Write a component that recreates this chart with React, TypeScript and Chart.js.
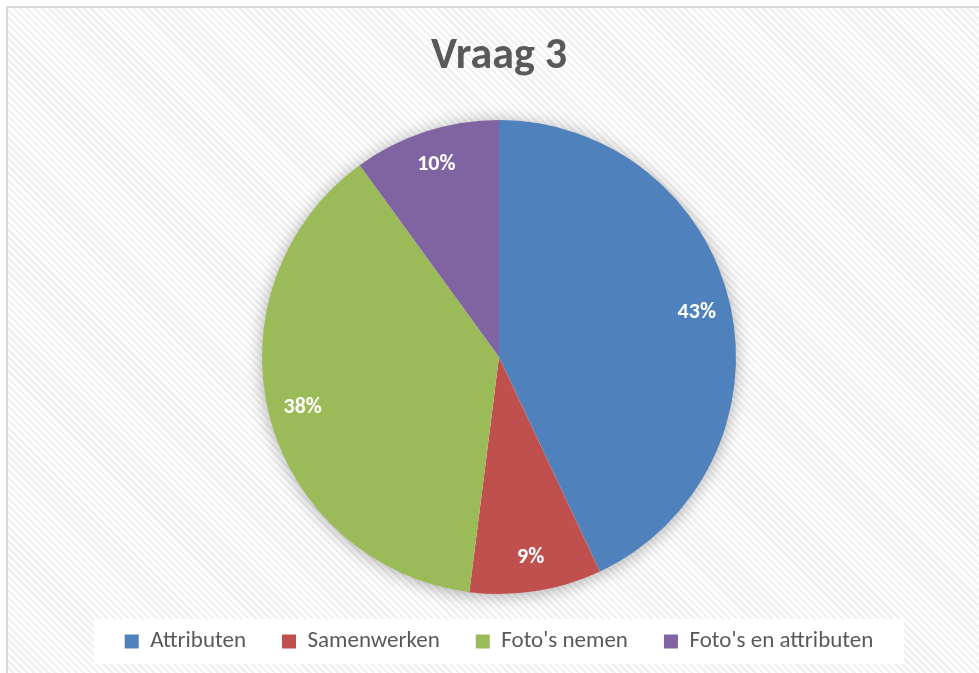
import React, { useEffect, useRef } from "react";
import { Chart, registerables } from "chart.js";

Chart.register(...registerables);

const title = "Vraag 3";
const categories = ["Attributen", "Samenwerken", "Foto's nemen", "Foto's en attributen"];
const values = [43, 9, 38, 10];
const colors = ["#4F81BD", "#C0504D", "#9BBB59", "#8064A2"];

const FONT = "Carlito, Calibri, Lato, 'Open Sans', sans-serif";

const shadowPlugin = {
  id: "pieShadow",
  beforeDatasetsDraw(chart: any) {
    const meta = chart.getDatasetMeta(0);
    const arc = meta.data[0];
    if (!arc) return;
    const { ctx } = chart;
    ctx.save();
    ctx.shadowColor = "rgba(0,0,0,0.35)";
    ctx.shadowBlur = 18;
    ctx.shadowOffsetX = 0;
    ctx.shadowOffsetY = 2;
    ctx.fillStyle = "#ffffff";
    ctx.beginPath();
    ctx.arc(arc.x, arc.y, arc.outerRadius - 1, 0, Math.PI * 2);
    ctx.fill();
    ctx.restore();
  },
};

const labelPlugin = {
  id: "pieLabels",
  afterDatasetsDraw(chart: any) {
    const meta = chart.getDatasetMeta(0);
    const data = chart.data.datasets[0].data as number[];
    const total = data.reduce((a, b) => a + b, 0);
    const { ctx } = chart;
    ctx.save();
    ctx.fillStyle = "#ffffff";
    ctx.font = `bold 22px ${FONT}`;
    ctx.textAlign = "center";
    ctx.textBaseline = "middle";
    meta.data.forEach((arc: any, i: number) => {
      const mid = (arc.startAngle + arc.endAngle) / 2;
      const r = arc.outerRadius * 0.855;
      const x = arc.x + Math.cos(mid) * r;
      const y = arc.y + Math.sin(mid) * r;
      ctx.fillText(Math.round((data[i] / total) * 100) + "%", x, y);
    });
    ctx.restore();
  },
};

const legendBgPlugin = {
  id: "legendBg",
  beforeDraw(chart: any) {
    const lg = chart.legend;
    if (!lg) return;
    const { ctx } = chart;
    ctx.save();
    ctx.fillStyle = "#ffffff";
    const cx = (lg.left + lg.right) / 2;
    ctx.fillRect(cx - 405, lg.top + 25, 810, 45);
    ctx.restore();
  },
};

export default function App() {
  const ref = useRef<HTMLCanvasElement>(null);
  useEffect(() => {
    if (!ref.current) return;
    const chart = new Chart(ref.current, {
      type: "pie",
      data: {
        labels: categories,
        datasets: [
          {
            data: values,
            backgroundColor: colors,
            borderWidth: 0,
          },
        ],
      },
      options: {
        animation: false,
        responsive: false,
        maintainAspectRatio: false,
        layout: { padding: { left: 11, right: 0, top: 0, bottom: 10 } },
        plugins: {
          title: {
            display: true,
            text: title,
            color: "#595959",
            font: { family: FONT, size: 44, weight: "bold" },
            padding: { top: 22.6, bottom: 36.6 },
          },
          legend: {
            display: true,
            position: "bottom",
            labels: {
              color: "#595959",
              font: { family: FONT, size: 23 },
              boxWidth: 14,
              boxHeight: 14,
              padding: 36,
            },
          },
          tooltip: { enabled: false },
        },
      },
      plugins: [legendBgPlugin, shadowPlugin, labelPlugin],
    });
    return () => chart.destroy();
  }, []);

  return (
    <div
      style={{
        position: "fixed",
        left: 0,
        top: 0,
        width: 979,
        height: 673,
        overflow: "hidden",
        background: "#ffffff",
      }}
    >
      <div
        style={{
          position: "absolute",
          left: 6,
          top: 6,
          width: 971,
          height: 665,
          borderLeft: "2px solid #d9d9d9",
          borderTop: "2px solid #d9d9d9",
          background:
            "repeating-linear-gradient(45deg, #ffffff 0px, #ffffff 2.5px, #f1f1f1 2.5px, #f1f1f1 5px)",
        }}
      >
        <canvas ref={ref} width={971} height={665} style={{ display: "block" }} />
      </div>
    </div>
  );
}
